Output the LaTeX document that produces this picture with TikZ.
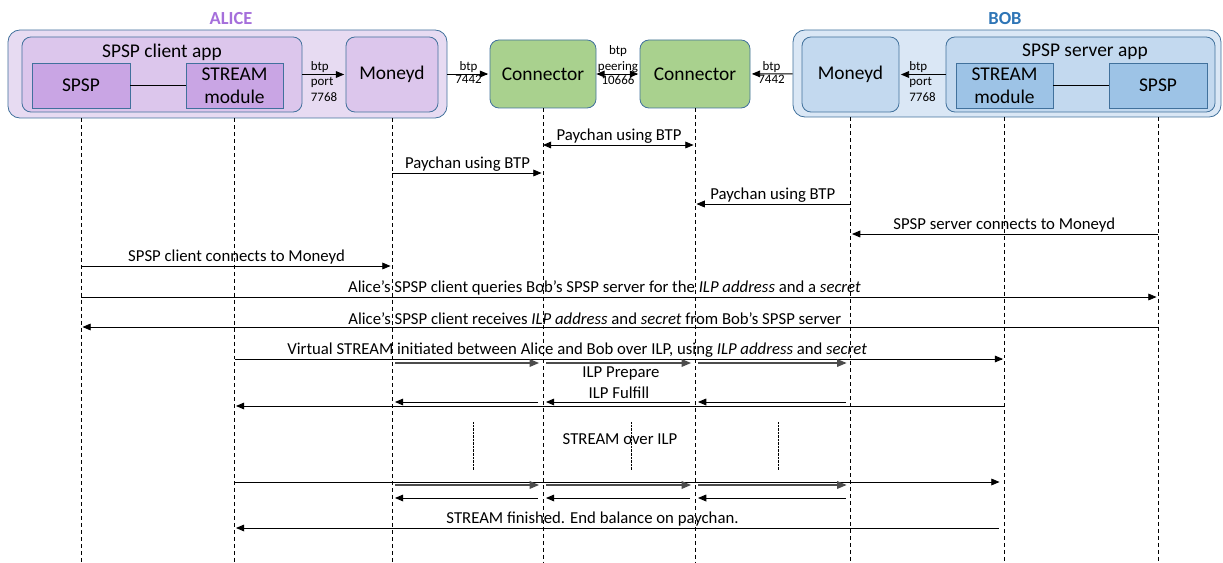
\documentclass[tikz,border=0pt]{standalone}
\usepackage{fontspec}
\setmainfont{Carlito}
\usepackage{tikz}
\usetikzlibrary{arrows, calc, positioning}
\definecolor{aliceOuter}{HTML}{E7DBF2}
\definecolor{aliceMid}{HTML}{DCC6EC}
\definecolor{aliceIn}{HTML}{C9A5E4}
\definecolor{aliceText}{HTML}{A56FDB}
\definecolor{bobOuter}{HTML}{DAE7F5}
\definecolor{bobMid}{HTML}{C3D9EF}
\definecolor{bobIn}{HTML}{9DC3E6}
\definecolor{bobText}{HTML}{2E75B6}
\definecolor{connGreen}{HTML}{A9D18E}
\definecolor{edgeBlue}{HTML}{41719C}
\newcommand{\boxfont}{\fontsize{19.5}{23}\selectfont}
\newcommand{\msgfont}{\fontsize{16.8}{20}\selectfont}
\newcommand{\portfont}{\fontsize{13}{16}\selectfont}
\tikzset{
	outerbox/.style={draw=edgeBlue, line width=0.8pt, rounded corners=12pt, inner sep=0pt},
	roundbox/.style={draw=edgeBlue, line width=0.8pt, rounded corners=9pt, inner sep=0pt, font=\boxfont},
	flatbox/.style={draw=edgeBlue, line width=0.8pt, inner sep=0pt, align=center, font=\boxfont},
	party/.style={font=\bfseries\fontsize{18.5}{20}\selectfont},
	life/.style={dash pattern=on 4pt off 3pt, line width=0.8pt},
	msg/.style={line width=0.9pt, shorten >=1.5bp},
	hop/.style={line width=1.2pt, draw=black!70, shorten <=3bp, shorten >=4bp},
	hopback/.style={line width=0.9pt, shorten <=5bp, shorten >=3bp},
	lbl/.style={above, inner sep=1.5bp, font=\msgfont},
	port/.style={inner sep=1bp, font=\portfont, align=left}
}
\begin{document}
\begin{tikzpicture}[x=1bp, y=-1bp, >=triangle 45]
		\useasboundingbox (0,0) rectangle (1223,563);
		\coordinate (bottom) at (0,563);
		\node[outerbox, fill=aliceOuter, minimum width=439bp, minimum height=88bp] (aliceBox) at (227.5,74) {};
		\node[outerbox, fill=bobOuter, minimum width=428bp, minimum height=87bp] (bobBox) at (1007,73.5) {};
		\node[party, text=aliceText] (aliceLbl) at (231,19) {ALICE}; \node[party, text=bobText] (bobLbl) at (1005,19) {BOB};
		\node[roundbox, fill=aliceMid, minimum width=280bp, minimum height=75bp] (aliceApp) at (162,74.5) {};
		\node[font=\boxfont] (aliceAppLbl) at (162,52) {SPSP client app};
		\node[flatbox, fill=aliceIn, minimum width=98bp, minimum height=45bp] (spspA) at (81,85.5) {SPSP};
		\node[flatbox, fill=aliceIn, minimum width=97bp, minimum height=45bp] (streamA) at (234.5,85.5) {STREAM\\module};
		\node[roundbox, fill=aliceMid, minimum width=92bp, minimum height=75bp] (moneydA) at (392,74.5) {Moneyd};
		\node[roundbox, fill=connGreen, minimum width=106bp, minimum height=68bp] (conn1) at (543,74) {Connector};
		\node[roundbox, fill=connGreen, minimum width=110bp, minimum height=68bp] (conn2) at (695,74) {Connector};
		\node[roundbox, fill=bobMid, minimum width=97bp, minimum height=75bp] (moneydB) at (850.5,74.5) {Moneyd};
		\node[roundbox, fill=bobMid, minimum width=269bp, minimum height=75bp] (bobApp) at (1080.5,74.5) {};
		\node[font=\boxfont] (bobAppLbl) at (1085,52) {SPSP server app};
		\node[flatbox, fill=bobIn, minimum width=97bp, minimum height=45bp] (streamB) at (1004.5,85.5) {STREAM\\module};
		\node[flatbox, fill=bobIn, minimum width=98bp, minimum height=45bp] (spspB) at (1158,85.5) {SPSP};

		\draw[line width=0.8pt] (spspA) -- (streamA); \draw[line width=0.8pt] (streamB) -- (spspB);
		\draw[msg, ->] (aliceApp) -- node[port, yshift=-7bp] (portA) {btp\\port\\7768} (moneydA);
		\draw[msg, ->] (aliceBox) -- node[port, above] (btpA) {btp} node[port, below] (numA) {7442} (conn1);
		\draw[msg, <->] (conn1) -- node[port, above, align=center] (peerTop) {btp\\peering} node[port, below] (peerNum) {10666} (conn2);
		\draw[msg, ->] (bobBox) -- node[port, above] (btpB) {btp} node[port, below] (numB) {7442} (conn2);
		\draw[msg, ->] (bobApp) -- node[port, yshift=-7bp] (portB) {btp\\port\\7768} (moneydB);

		\draw[life] (spspA |- aliceBox.south) -- (spspA |- bottom); \draw[life] (streamA |- aliceBox.south) -- (streamA |- bottom);
		\draw[life] (moneydA |- aliceBox.south) -- (moneydA |- bottom); \draw[life] (conn1.south) -- (conn1 |- bottom);
		\draw[life] (conn2.south) -- (conn2 |- bottom); \draw[life] (moneydB |- bobBox.south) -- (moneydB |- bottom);
		\draw[life] (streamB |- bobBox.south) -- (streamB |- bottom); \draw[life] (spspB |- bobBox.south) -- (spspB |- bottom);

		\draw[msg, <->] (conn1 |- 0,145) -- node[lbl] {Paychan using BTP} (conn2 |- 0,145);
		\draw[msg, ->] (moneydA |- 0,173) -- node[lbl] {Paychan using BTP} (conn1 |- 0,173);
		\draw[msg, ->] (moneydB |- 0,204) -- node[lbl] {Paychan using BTP} (conn2 |- 0,204);
		\draw[msg, ->] (spspB |- 0,234) -- node[lbl] {SPSP server connects to Moneyd} (moneydB |- 0,234);
		\draw[msg, ->] (spspA |- 0,266) -- node[lbl] {SPSP client connects to Moneyd} (moneydA |- 0,266);
		\draw[msg, ->] (spspA |- 0,297) -- node[lbl, pos=0.486] {Alice’s SPSP client queries Bob’s SPSP server for the \textit{ILP address} and a \textit{secret}} (spspB |- 0,297);
		\draw[msg, ->] (spspB |- 0,327) -- node[lbl, pos=0.523] {Alice’s SPSP client receives \textit{ILP address} and \textit{secret} from Bob’s SPSP server} (spspA |- 0,327);
		\draw[msg, ->] (streamA |- 0,359) -- node[lbl, pos=0.445] {Virtual STREAM initiated between Alice and Bob over ILP, using \textit{ILP address} and \textit{secret}} (streamB |- 0,359);

		\draw[hop, ->] (moneydA |- 0,363) -- (conn1 |- 0,363); \draw[hop, ->] (conn1 |- 0,363) -- (conn2 |- 0,363); \draw[hop, ->] (conn2 |- 0,363) -- (moneydB |- 0,363);
		\node[font=\msgfont] (prepare) at (621,373) {ILP Prepare}; \node[font=\msgfont] (fulfill) at (619,393) {ILP Fulfill};
		\draw[hopback, ->] (conn1 |- 0,402) -- (moneydA |- 0,402); \draw[hopback, ->] (conn2 |- 0,402) -- (conn1 |- 0,402); \draw[hopback, ->] (moneydB |- 0,402) -- (conn2 |- 0,402);
		\draw[msg, ->] (streamB |- 0,406) -- (streamA |- 0,406);

		\draw[densely dotted] (473,422) -- (473,470); \draw[densely dotted] (631,422) -- (631,470); \draw[densely dotted] (778.5,422) -- (778.5,470);
		\node[font=\msgfont] (overIlp) at (620,439) {STREAM over ILP};

		\draw[msg, ->, shorten >=5bp] (streamA |- 0,482) -- (streamB |- 0,482);
		\draw[hop, ->] (moneydA |- 0,485) -- (conn1 |- 0,485); \draw[hop, ->] (conn1 |- 0,485) -- (conn2 |- 0,485); \draw[hop, ->] (conn2 |- 0,485) -- (moneydB |- 0,485);
		\draw[hopback, ->] (conn1 |- 0,498) -- (moneydA |- 0,498); \draw[hopback, ->] (conn2 |- 0,498) -- (conn1 |- 0,498); \draw[hopback, ->] (moneydB |- 0,498) -- (conn2 |- 0,498);
		\draw[msg, ->, shorten <=6bp] (streamB |- 0,528) -- node[lbl, pos=0.535] {STREAM finished. End balance on paychan.} (streamA |- 0,528);
	\end{tikzpicture}
\end{document}
